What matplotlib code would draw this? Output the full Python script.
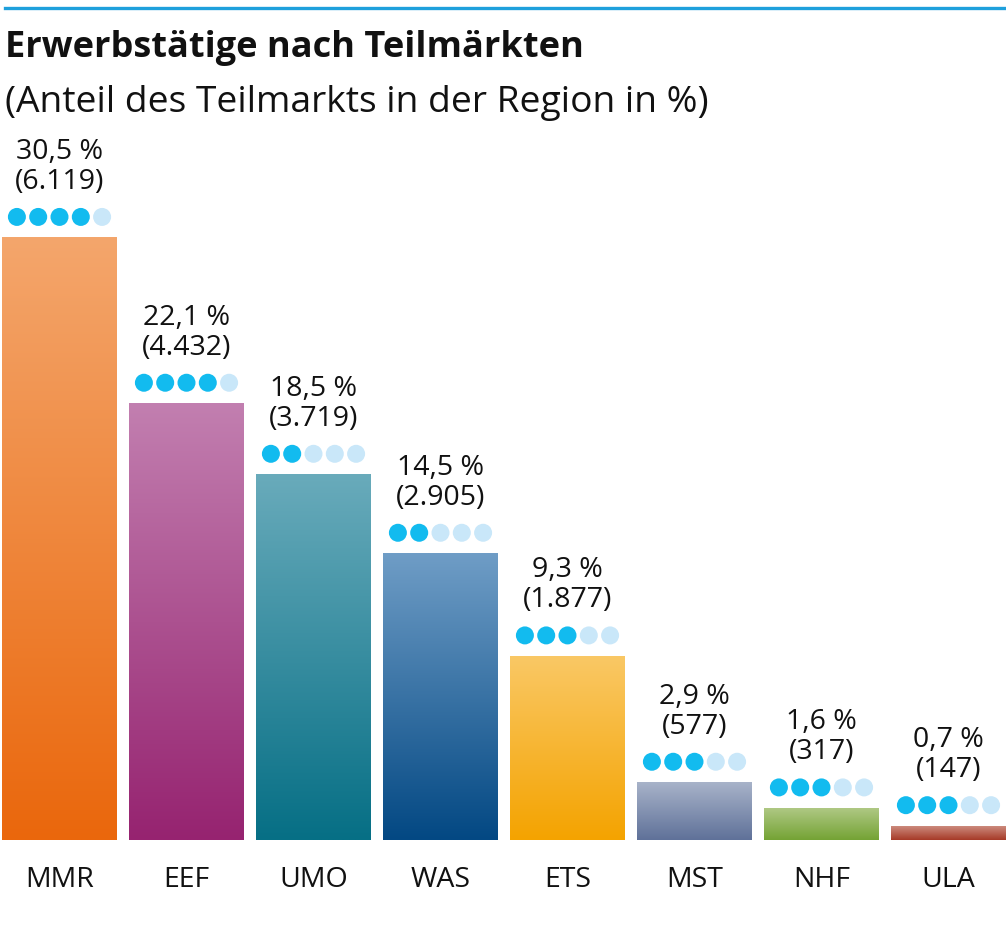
import numpy as np
import matplotlib.pyplot as plt
from matplotlib.colors import LinearSegmentedColormap

plt.rcParams['font.family'] = ['Open Sans', 'DejaVu Sans']

# Data
categories = ['MMR', 'EEF', 'UMO', 'WAS', 'ETS', 'MST', 'NHF', 'ULA']
shares = [30.5, 22.1, 18.5, 14.5, 9.3, 2.9, 1.6, 0.7]
share_labels = ['30,5 %', '22,1 %', '18,5 %', '14,5 %', '9,3 %', '2,9 %', '1,6 %', '0,7 %']
count_labels = ['(6.119)', '(4.432)', '(3.719)', '(2.905)', '(1.877)', '(577)', '(317)', '(147)']
rating = [4, 4, 2, 2, 3, 3, 3, 3]   # filled dots out of 5
top_colors = ['#f4a66c', '#c27fb0', '#69abbb', '#6f9dc6', '#fac865', '#a8b3c9', '#afc884', '#cc8a7d']
bottom_colors = ['#ea670c', '#962370', '#066f85', '#034883', '#f4a300', '#5f7199', '#74a334', '#a63a27']

W, H = 1006, 940
fig = plt.figure(figsize=(W / 100, H / 100), dpi=100)

# axes: baseline at y=840px, 19.74 px per percent
px_per_unit = 19.74
ax_top_px = 130
ax = fig.add_axes([0, (H - 840) / H, 1, (840 - ax_top_px) / H])
ax.axis('off')

x = np.arange(len(categories))
bars = ax.bar(x, shares, width=115 / 127, color='none', edgecolor='none')

grad = np.linspace(0, 1, 256).reshape(-1, 1)
for b, c0, c1 in zip(bars, top_colors, bottom_colors):
    cmap = LinearSegmentedColormap.from_list('g', [c1, c0])
    x0 = b.get_x()
    ax.imshow(grad, extent=[x0, x0 + b.get_width(), 0, b.get_height()],
              origin='lower', aspect='auto', cmap=cmap, zorder=2)

ax.set_xlim(-59.5 / 127, (W - 59.5) / 127)
ax.set_ylim(0, (840 - ax_top_px) / px_per_unit)

# labels above bars
dot_dx = 21.3 / 127
dot_dy = 21 / px_per_unit
for i, v in enumerate(shares):
    ax.annotate(share_labels[i], (i, v), xytext=(0, 79), textcoords='offset pixels',
                ha='center', va='baseline', fontsize=20.5, color='#111111')
    ax.annotate(count_labels[i], (i, v), xytext=(0, 49), textcoords='offset pixels',
                ha='center', va='baseline', fontsize=20.5, color='#111111')
    dx = (np.arange(5) - 2) * dot_dx + i
    cols = ['#12bbef'] * rating[i] + ['#c9e7f9'] * (5 - rating[i])
    ax.scatter(dx, [v + dot_dy] * 5, s=168, c=cols, edgecolors='none', zorder=3,
               clip_on=False)
    ax.annotate(categories[i], (i, 0), xytext=(0, -47), textcoords='offset pixels',
                ha='center', va='baseline', fontsize=20.5, color='#111111')

# header
fig.add_artist(plt.Line2D([5 / W, 1], [1 - 8 / H, 1 - 8 / H], color='#1ea0dc', lw=2.4))
fig.text(5 / W, 1 - 57 / H, 'Erwerbstätige nach Teilmärkten', fontsize=26,
         fontweight='bold', ha='left', va='baseline', color='#111111')
fig.text(5 / W, 1 - 112 / H, '(Anteil des Teilmarkts in der Region in %)', fontsize=26.8,
         ha='left', va='baseline', color='#111111')

fig.savefig('out.png', dpi=100)
